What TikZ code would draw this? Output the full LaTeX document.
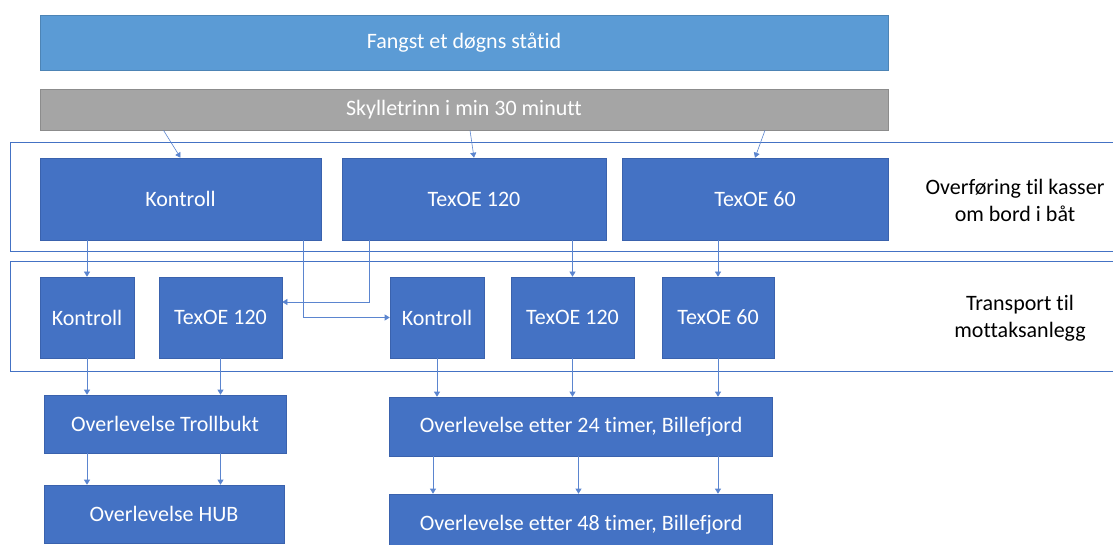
\documentclass[tikz,border=0pt]{standalone}
\usepackage{fontspec}
\setmainfont{Carlito}[Ligatures={NoCommon,NoContextual}]
\usetikzlibrary{arrows.meta}
\definecolor{boxblue}{HTML}{4472C4}
\definecolor{boxedge}{HTML}{3A62AD}
\definecolor{topblue}{HTML}{5B9BD5}
\definecolor{skyllgrey}{HTML}{A5A5A5}
\definecolor{linkblue}{HTML}{5B85CF}
\tikzset{
  box/.style={rectangle,draw=boxedge,fill=boxblue,text=white,line width=0.6pt,
    inner sep=0pt,font=\fontsize{22}{27}\selectfont},
  bar/.style={box,minimum width=848pt},
  label/.style={align=center,font=\fontsize{22}{27}\selectfont},
  frame/.style={draw=boxblue,line width=1pt},
  link/.style={draw=linkblue,line width=0.6pt,-{Triangle[width=6pt,length=5pt]}}
}
\begin{document}
\begin{tikzpicture}[x=1pt,y=-1pt]
      \useasboundingbox (0,0) rectangle (1113,545);
      \clip (0,0) rectangle (1113,545);

      \node[bar,fill=topblue,draw=topblue!85!black,minimum height=55pt] (fangst) at (464,42.5) {Fangst et døgns ståtid};
      \node[bar,fill=skyllgrey,draw=skyllgrey!85!black,minimum height=41pt] (skyll) at (464,109.5) {Skylletrinn i min 30 minutt};

      \draw[frame] (10,143) rectangle (1130,252);
      \draw[frame] (10,262) rectangle (1130,371);

      \node[box,minimum width=281pt,minimum height=82pt] (k1) at (180.5,199) {Kontroll};
      \node[box,minimum width=264pt,minimum height=82pt] (t120a) at (474,199) {TexOE 120};
      \node[box,minimum width=266pt,minimum height=82pt] (t60a) at (755,199) {TexOE 60};
      \node[label] (overf) at (1015,200) {Overføring til kasser\\om bord i båt};

      \node[box,minimum width=94pt,minimum height=81pt] (k2) at (87,317.5) {Kontroll};
      \node[box,minimum width=123pt,minimum height=81pt] (t120b) at (220.5,317.5) {TexOE 120};
      \node[box,minimum width=94pt,minimum height=81pt] (k3) at (437,317.5) {Kontroll};
      \node[box,minimum width=123pt,minimum height=81pt] (t120c) at (572.5,317.5) {TexOE 120};
      \node[box,minimum width=112pt,minimum height=81pt] (t60b) at (718,317.5) {TexOE 60};
      \node[label] (transp) at (1020,318) {Transport til\\mottaksanlegg};

      \node[box,minimum width=242pt,minimum height=58pt] (troll) at (165,424) {Overlevelse Trollbukt};
      \node[box,minimum width=240pt,minimum height=58pt] (hub) at (164,514) {Overlevelse HUB};
      \node[box,minimum width=383pt,minimum height=59pt] (h24) at (581,426.5) {Overlevelse etter 24 timer, Billefjord};
      \node[box,minimum width=383pt,minimum height=61pt] (h48) at (581,524.5) {Overlevelse etter 48 timer, Billefjord};

      % skylletrinn to the three groups
      \draw[link] ([xshift=-17pt]skyll.south -| k1) -- (k1.north);
      \draw[link] ([xshift=-4pt]skyll.south -| t120a) -- (t120a.north);
      \draw[link] ([xshift=10pt]skyll.south -| t60a) -- (t60a.north);

      % boat to transport
      \draw[link] (k1.south -| k2) -- (k2.north);
      \draw[link] ([xshift=122.5pt]k1.south) |- (k3.west);
      \draw[link] ([xshift=-105pt]t120a.south) |- ([yshift=15.5pt]t120b.east);
      \draw[link] (t120a.south -| t120c) -- (t120c.north);
      \draw[link] (t60a.south -| t60b) -- (t60b.north);

      % transport to survival
      \draw[link] (k2.south) -- (k2.south |- troll.north);
      \draw[link] (t120b.south) -- (t120b.south |- troll.north);
      \draw[link] (troll.south -| k2) -- (hub.north -| k2);
      \draw[link] (troll.south -| t120b) -- (hub.north -| t120b);
      \draw[link] (k3.south) -- (k3.south |- h24.north);
      \draw[link] (t120c.south) -- (t120c.south |- h24.north);
      \draw[link] (t60b.south) -- (t60b.south |- h24.north);
      \draw[link] ([xshift=-4pt]h24.south -| k3) -- ([xshift=-4pt]h48.north -| k3);
      \draw[link] ([xshift=6pt]h24.south -| t120c) -- ([xshift=6pt]h48.north -| t120c);
      \draw[link] (h24.south -| t60b) -- (h48.north -| t60b);
    \end{tikzpicture}
\end{document}
